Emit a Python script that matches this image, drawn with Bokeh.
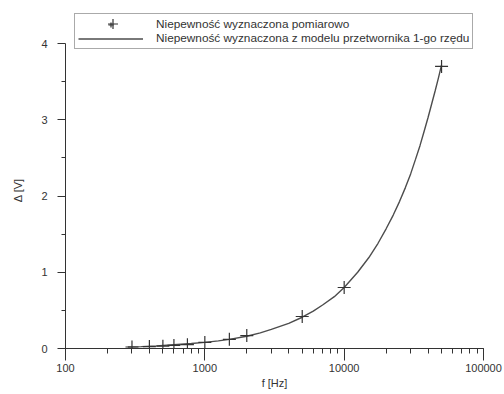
from bokeh.plotting import figure
from bokeh.models import Range1d, LogTicker, FixedTicker, Legend, LegendItem, CustomJSTickFormatter
from bokeh.embed import file_html
from bokeh.resources import INLINE

# measured points
f_meas = [300, 400, 500, 600, 750, 1000, 1500, 2000, 5000, 10000, 50000]
d_meas = [0.02, 0.025, 0.03, 0.04, 0.05, 0.08, 0.12, 0.17, 0.42, 0.80, 3.70]

# model curve (first-order transducer)
f_model = [280, 350, 450, 600, 800, 1000, 1250, 1500, 2000, 2500, 3000, 4000, 5000,
           6000, 7000, 8500, 10000, 12500, 15000, 17500, 20000, 22500, 25000, 27500,
           30000, 32500, 35000, 37500, 40000, 42500, 45000, 47500, 50000]
d_model = [0.02, 0.025, 0.035, 0.05, 0.065, 0.08, 0.10, 0.12, 0.16, 0.205, 0.25, 0.33, 0.41,
           0.49, 0.57, 0.68, 0.80, 1.00, 1.19, 1.38, 1.57, 1.75, 1.93, 2.11,
           2.29, 2.48, 2.66, 2.85, 3.03, 3.21, 3.38, 3.55, 3.72]

x_ticks = [100, 1000, 10000, 100000]
y_ticks = [0, 1, 2, 3, 4]
y_minor = [0.5, 1.5, 2.5, 3.5]

label_meas = "Niepewność wyznaczona pomiarowo"
label_model = "Niepewność wyznaczona z modelu przetwornika 1-go rzędu"
x_title = "f [Hz]"
y_title = "Δ [V]"

FONT = "Liberation Sans"
INK = "#333333"

p = figure(width=504, height=394, x_axis_type="log", output_backend="svg",
           toolbar_location=None, min_border_left=65, min_border_right=21,
           min_border_top=10, min_border_bottom=46,
           x_range=Range1d(100, 100000), y_range=Range1d(0, 4.4328))
p.outline_line_color = None
p.xgrid.visible = False
p.ygrid.visible = False

r_line = p.line(f_model, d_model, line_color="#4d4d4d", line_width=1.4)
r_pts = p.scatter(f_meas, d_meas, marker="cross", size=13, line_color=INK, line_width=1.2)

xa = p.xaxis[0]
xa.ticker = LogTicker(num_minor_ticks=10)
xa.formatter = CustomJSTickFormatter(code="return tick.toFixed(0);")
xa.axis_line_color = INK
xa.major_tick_line_color = INK
xa.minor_tick_line_color = INK
xa.major_tick_out = 12
xa.major_tick_in = 0
xa.minor_tick_out = 5
xa.minor_tick_in = 0
xa.major_label_text_font = FONT
xa.major_label_text_font_size = "11px"
xa.major_label_text_color = INK
xa.major_label_standoff = 3
xa.axis_label = x_title
xa.axis_label_text_font = FONT
xa.axis_label_text_font_size = "11px"
xa.axis_label_text_font_style = "normal"
xa.axis_label_text_color = INK
xa.axis_label_standoff = 2

ya = p.yaxis[0]
ya.ticker = FixedTicker(ticks=y_ticks, minor_ticks=y_minor)
ya.bounds = (0, 4)
ya.axis_line_color = INK
ya.major_tick_line_color = INK
ya.minor_tick_line_color = INK
ya.major_tick_out = 8
ya.major_tick_in = 0
ya.minor_tick_out = 4
ya.minor_tick_in = 0
ya.major_label_text_font = FONT
ya.major_label_text_font_size = "11px"
ya.major_label_text_color = INK
ya.major_label_standoff = 10
ya.major_label_orientation = "horizontal"
ya.axis_label = y_title + "\u00a0" * 7
ya.axis_label_text_font = FONT
ya.axis_label_text_font_size = "11px"
ya.axis_label_text_font_style = "normal"
ya.axis_label_text_color = INK
ya.axis_label_standoff = 14

legend = Legend(items=[LegendItem(label=label_meas, renderers=[r_pts]),
                       LegendItem(label=label_model, renderers=[r_line])],
                location=(9, 299), glyph_width=65, glyph_height=13, label_height=13,
                label_standoff=13, spacing=0, padding=3, margin=0,
                label_text_font=FONT, label_text_font_size="11.8px", label_text_color=INK,
                border_line_color="#555555", border_line_width=1,
                background_fill_alpha=1.0)
p.add_layout(legend, "center")

# larger cross for the legend's first row
legend_big = Legend(items=[LegendItem(label=" ", renderers=[r_pts])],
                    location=(34.5, 312), glyph_width=25, glyph_height=25,
                    label_height=25, label_standoff=0, spacing=0, padding=0, margin=0,
                    label_text_font_size="1px", border_line_color=None,
                    background_fill_alpha=0.0)
p.add_layout(legend_big, "center")

open("out.html", "w").write(file_html(p, INLINE))
